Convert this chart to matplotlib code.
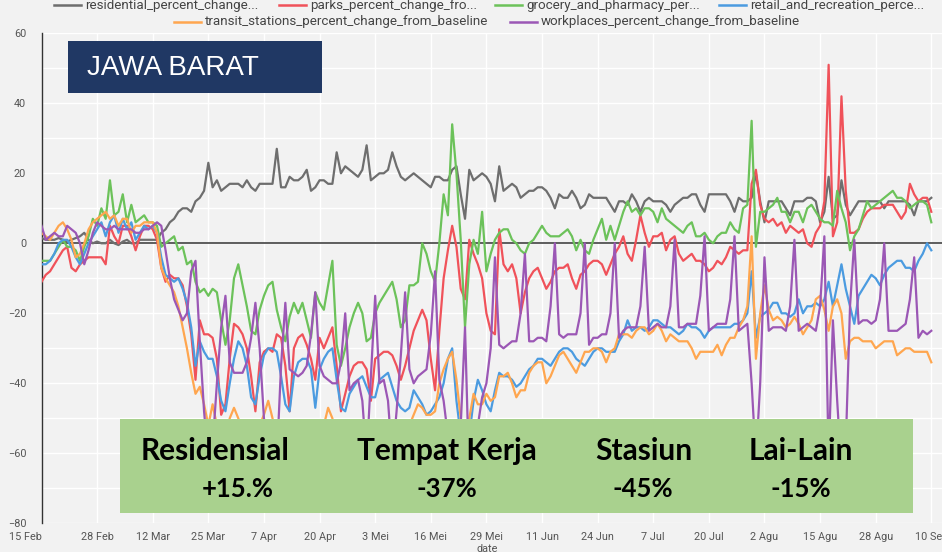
import matplotlib
matplotlib.use("Agg")
import matplotlib.pyplot as plt
from matplotlib.lines import Line2D
from matplotlib.patches import Rectangle
import numpy as np
import pandas as pd

W, H = 942, 552

dates = pd.date_range("2020-02-15", "2020-09-10", freq="D")

residential = [
    1.5, 1, 1, 1, 1.5, 1, 0.5, 1, 1.5, 2,
    3, 1, 0, 0.5, 0, 0, 1, 0, -0.5, 0.5,
    1, 0, 0, 1, 1, 1, 1, 1, 3, 4,
    6, 7, 9, 10, 10, 9, 12, 13, 15, 23,
    16, 18, 15, 16, 17, 17, 17, 16, 18, 16,
    15, 17, 17, 17, 17, 27, 16, 16, 19, 18,
    18, 19, 21, 15, 16, 18, 18, 17, 17, 26,
    20, 22, 21, 20, 19, 21, 28, 18, 19, 20,
    20, 21, 26, 22, 19, 18, 19, 20, 19, 18,
    17, 16, 19, 19, 18, 18, 21, 22, 14, 7,
    21, 18, 19, 20, 19, 17, 12, 22, 15, 16,
    17, 16, 13, 14, 15, 15, 16, 16, 15, 13,
    10, 14, 13, 13, 15, 13, 10, 11, 14, 13,
    13, 13, 13, 11, 9, 12, 12, 11, 14, 12,
    9, 12, 13, 12, 12, 12, 11, 9, 11, 12,
    13, 13, 14, 14, 11, 9, 14, 14, 14, 14,
    14, 12, 9, 13, 12, 12, 13, 20, 12, 6,
    12, 12, 12, 12, 10, 8, 12, 12, 12, 13,
    13, 12, 6, 9, 19, 7, 8, 18, 11, 8,
    10, 12, 12, 12, 12, 12, 12, 10, 12, 12,
    12, 12, 12, 11, 8, 12, 12, 12, 13,
]

parks = [
    -11, -9, -8, -6, -4, -2, -1, -7, -8, -6,
    -5, -4, -4, -4, -4, -6, 5, 2, 0, 5,
    5, 2, -2, 2, 5, 5, 4, 1, -7, -11,
    -9, -10, -10, -12, -18, -26, -39, -22, -26, -26,
    -27, -33, -49, -46, -33, -23, -24, -26, -30, -38,
    -48, -34, -31, -30, -31, -26, -27, -35, -48, -30,
    -27, -26, -29, -33, -39, -27, -30, -27, -24, -35,
    -48, -43, -38, -35, -34, -34, -36, -45, -33, -32,
    -31, -31, -32, -35, -39, -35, -30, -25, -22, -19,
    -22, -33, -42, -25, -10, -2, 5, -1, -13, -16,
    1, -3, -6, -10, -20, -25, -26, 4, -6, -8,
    -6, -10, -20, -14, -10, -8, -7, -10, -13, -11,
    -8, -7, -7, -6, -10, -13, -9, -8, -6, -5,
    -5, -6, -9, -6, -3, -1, 2, -3, -5, 1,
    8, 3, -1, 2, 2, 3, -2, 1, 2, -3,
    -5, -4, -3, -5, -5, -6, -8, -7, -5, -6,
    -4, -1, -2, -3, -2, -2, 17, 21, 11, 7,
    6, 7, 5, 6, 3, 5, 4, 3, 4, 0,
    -1, 3, 5, 12, 51, 2, 6, 42, 15, 3,
    3, 4, 7, 9, 10, 10, 10, 11, 11, 11,
    9, 7, 9, 17, 14, 12, 13, 13, 9,
]

grocery = [
    -5, -5, -5, -3, -1, 1, -1, -1, -2, -5,
    -1, 2, 7, 5, 10, 7, 18, 8, 9, 14,
    6, 11, 6, 7, 8, 6, 6, 5, -1, 0,
    1, 2, -2, -1, -6, -5, -11, -14, -13, -15,
    -13, -14, -22, -29, -22, -10, -6, -12, -18, -25,
    -26, -19, -15, -12, -11, -19, -24, -28, -21, -17,
    -20, -17, -22, -27, -14, -17, -19, -12, -5, -29,
    -35, -30, -24, -20, -17, -20, -28, -27, -20, -17,
    -15, -13, -11, -16, -24, -22, -12, -12, -11, 0,
    -3, -8, -11, 0, 14, 8, 34, 20, 1, -24,
    -6, 1, -3, 9, -8, -3, 1, 3, 4, 4,
    1, 0, -2, -3, 0, 1, 3, 5, 3, 2,
    2, 2, 3, 4, 2, -2, 1, -2, -3, 1,
    4, 7, 1, 5, 1, 5, 9, 12, 9, 10,
    8, 10, 10, 9, 6, 10, 7, 6, 5, 4,
    3, 5, 6, 2, 2, 3, 1, 0, 2, 3,
    3, 6, 4, 3, 10, 11, 35, -1, 9, 9,
    10, 11, 13, 9, 9, 6, 9, 9, 6, 10,
    11, 9, 7, 6, 6, 5, 15, 10, 6, -2,
    2, 4, 8, 12, 10, 11, 12, 13, 14, 15,
    13, 13, 12, 10, 11, 12, 12, 11, 6,
]

retail = [
    -6, -6, -5, -3, 0, 1, 1, -1, -4, -6,
    -3, 0, 2, 4, 6, 2, 6, 8, 3, 7,
    4, 6, 1, 3, 5, 4, 5, 3, -4, -9,
    -10, -11, -10, -13, -17, -24, -35, -28, -31, -33,
    -33, -38, -45, -48, -40, -33, -28, -30, -35, -44,
    -46, -38, -32, -30, -30, -31, -38, -46, -48, -38,
    -34, -33, -33, -36, -47, -36, -33, -31, -30, -39,
    -47, -48, -43, -41, -39, -38, -41, -44, -44, -39,
    -38, -37, -41, -45, -47, -48, -47, -42, -44, -46,
    -49, -48, -46, -44, -40, -33, -30, -45, -55, -62,
    -55, -45, -39, -42, -46, -48, -42, -37, -38, -38,
    -39, -41, -40, -38, -36, -35, -33, -33, -34, -35,
    -33, -31, -30, -30, -31, -33, -34, -35, -33, -31,
    -30, -30, -31, -31, -31, -28, -26, -22, -25, -24,
    -24, -25, -24, -22, -22, -23, -24, -24, -25, -26,
    -25, -23, -24, -24, -25, -27, -25, -24, -24, -24,
    -24, -24, -23, -23, -22, -20, -8, -27, -21, -20,
    -19, -17, -17, -20, -20, -21, -20, -16, -20, -18,
    -18, -17, -18, -16, -11, -18, -12, -6, -13, -18,
    -23, -15, -13, -11, -9, -10, -12, -9, -7, -6,
    -5, -5, -7, -7, -8, -5, -3, 0, -2,
]

transit = [
    3, 2, 1, 3, 5, 6, 4, 1, -4, -3,
    0, 4, 6, 7, 8, 9, 7, 8, 5, 7,
    7, 3, 5, 5, 6, 6, 6, 3, -7, -10,
    -12, -14, -18, -24, -30, -37, -43, -41, -46, -52,
    -46, -52, -56, -55, -50, -47, -50, -53, -56, -58,
    -55, -52, -49, -45, -50, -56, -58, -60, -57, -55,
    -54, -55, -56, -60, -57, -54, -52, -47, -50, -58,
    -62, -58, -56, -55, -56, -58, -60, -62, -58, -56,
    -55, -56, -57, -59, -58, -55, -52, -49, -46, -47,
    -49, -49, -48, -40, -36, -33, -31, -39, -50, -58,
    -50, -43, -46, -46, -43, -45, -44, -38, -38, -37,
    -40, -44, -42, -42, -37, -35, -34, -34, -40, -38,
    -35, -32, -31, -33, -35, -37, -34, -31, -31, -30,
    -30, -31, -34, -31, -30, -26, -26, -26, -27, -25,
    -24, -24, -26, -25, -23, -25, -28, -26, -27, -28,
    -28, -28, -30, -33, -31, -31, -31, -31, -29, -32,
    -29, -27, -27, -24, -22, -18, 2, -33, -20, -12,
    -19, -22, -21, -22, -24, -23, -21, -23, -26, -24,
    -22, -16, -15, -19, -25, -18, -16, -20, -33, -28,
    -27, -27, -28, -28, -28, -30, -29, -28, -28, -28,
    -32, -31, -30, -30, -31, -31, -31, -31, -34,
]

workplaces = [
    5, 1, 2, 3, 2, 2, 5, 4, 3, 0,
    -6, -2, 3, 6, 5, 4, 4, 5, 4, 4,
    4, 4, 3, 3, 4, 4, 5, 6, 5, -2,
    -10, -16, -19, -22, -20, -8, -5, -28, -48, -62,
    -58, -40, -24, -15, -34, -37, -37, -37, -34, -27,
    -17, -30, -50, -56, -58, -62, -35, -17, -36, -37,
    -38, -37, -35, -26, -14, -35, -38, -39, -40, -40,
    -34, -20, -42, -40, -39, -45, -62, -38, -15, -40,
    -39, -45, -62, -48, -32, -14, -36, -40, -38, -37,
    -36, -26, -8, -39, -45, -55, -65, -65, -52, -24,
    -68, -65, -52, -44, -40, -30, -4, -29, -30, -29,
    -28, -28, -20, -3, -28, -28, -27, -27, -28, -18,
    0, -26, -27, -26, -26, -26, -20, 0, -29, -27,
    -27, -26, -26, -20, 0, -27, -25, -24, -24, -24,
    -18, -1, -25, -24, -23, -24, -24, -18, 1, -24,
    -24, -23, -23, -23, -15, 2, -25, -24, -23, -23,
    -23, -16, 2, -25, -24, -23, -40, -62, -40, -4,
    -25, -24, -24, -24, -25, -18, 1, -25, -24, -23,
    -24, -25, -18, 2, -62, -22, -45, -65, -58, -18,
    1, -23, -22, -22, -23, -22, -16, 0, -25, -25,
    -25, -24, -23, -16, -4, -27, -25, -26, -25,
]

legend_labels = [
    "residential_percent_change...",
    "parks_percent_change_fro...",
    "grocery_and_pharmacy_per...",
    "retail_and_recreation_perce...",
    "transit_stations_percent_change_from_baseline",
    "workplaces_percent_change_from_baseline",
]
colors = ["#6e6e6e", "#f0525a", "#6cc25a", "#4b9be0", "#ffa64f", "#9b57b5"]

tick_days = list(range(0, 209, 13))
tick_labels = ["15 Feb", "28 Feb", "12 Mar", "25 Mar", "7 Apr", "20 Apr", "3 Mei",
               "16 Mei", "29 Mei", "11 Jun", "24 Jun", "7 Jul", "20 Jul", "2 Agu",
               "15 Agu", "28 Agu", "10 Sep"]

summary_titles = ["Residensial", "Tempat Kerja", "Stasiun", "Lai-Lain"]
summary_values = ["+15.%", "-37%", "-45%", "-15%"]

series = [residential, parks, grocery, retail, transit, workplaces]
for s in series:
    assert len(s) == len(dates), len(s)

BG = "#f2f2f2"
TXT = "#555555"


def fx(x):
    return x / W


def fy(y):
    return 1 - y / H


fig = plt.figure(figsize=(W / 100, H / 100), dpi=100, facecolor=BG)
ax = fig.add_axes([fx(41.5), fy(523.3), (W - 41.5) / W, 490 / H])
ax.set_facecolor(BG)

for s, c in zip(series, colors):
    ax.plot(dates, s, color=c, lw=1.6, zorder=3, solid_joinstyle="round")

ax.axhline(0, color="#333333", lw=1.1, zorder=2)

ax.set_xlim(dates[0], dates[0] + pd.Timedelta(days=210.5))
ax.set_ylim(-80, 60)
ax.set_yticks(range(-80, 61, 20))
ax.set_yticks(range(-70, 60, 20), minor=True)
ax.set_xticks([dates[d] for d in tick_days])
ax.set_xticklabels(tick_labels)
ax.grid(True, which="both", color="white", lw=1.0, zorder=0)
ax.set_axisbelow(True)
ax.tick_params(axis="both", which="both", length=0, labelsize=7.8, labelcolor=TXT)
ax.tick_params(axis="x", pad=6)
ax.tick_params(axis="y", pad=11)
for lab in ax.get_xticklabels() + ax.get_yticklabels():
    lab.set_fontfamily("Roboto")
ax.get_xticklabels()[0].set_horizontalalignment("right")
for sp in ["top", "right", "bottom"]:
    ax.spines[sp].set_visible(False)
ax.spines["left"].set_color("#333333")
ax.spines["left"].set_linewidth(1.0)

fig.text(fx(487), fy(549), "date", ha="center", va="center", fontsize=7.8,
         color=TXT, family="Roboto")

# legend drawn by hand: two centred rows, the first one clipped at the top
handle_x = [54, 279, 495, 719, 174, 510]
leg_y = [5, 5, 5, 5, 22, 22]
for i, (lab, c) in enumerate(zip(legend_labels, colors)):
    x0, y0 = handle_x[i], leg_y[i]
    fig.add_artist(Line2D([fx(x0), fx(x0 + 27)], [fy(y0), fy(y0)], color=c, lw=1.8))
    fig.text(fx(x0 + 31), fy(y0), lab, ha="left", va="center", fontsize=9.6,
             color="#444444", family="Roboto")

# title box
fig.add_artist(Rectangle((fx(68), fy(93)), (322 - 68) / W, (93 - 41) / H,
                         transform=fig.transFigure, facecolor="#203864",
                         edgecolor="none", zorder=5))
fig.text(fx(87), fy(68), "JAWA BARAT", ha="left", va="center", fontsize=20,
         color="white", family="Liberation Sans", zorder=6)

# summary boxes
GREEN = "#a9d18e"
boxes = [(120, 575), (557, 913), (690, 913)]
title_pos = [(215, 451), (447, 451), (595, 451), (801, 451)]
value_pos = [(238, 489), (447, 489), (643, 489), (801, 489)]


def add_box(x0, x1):
    fig.add_artist(Rectangle((fx(x0), fy(513)), (x1 - x0) / W, (513 - 419) / H,
                             transform=fig.transFigure, facecolor=GREEN,
                             edgecolor="none", zorder=5))


def add_label(i):
    fig.text(fx(title_pos[i][0]), fy(title_pos[i][1]), summary_titles[i],
             ha="left" if i == 2 else "center", va="center", fontsize=21.5,
             fontweight="bold", family="Lato", color="black", zorder=6)
    fig.text(fx(value_pos[i][0]), fy(value_pos[i][1]), summary_values[i],
             ha="center", va="center", fontsize=18.5, fontweight="bold",
             family="Lato", color="black", zorder=6)


add_box(*boxes[0])
add_label(0)
add_label(1)
add_box(*boxes[1])
add_label(2)
add_box(*boxes[2])
add_label(3)

fig.savefig("out.png", dpi=100, facecolor=BG)
